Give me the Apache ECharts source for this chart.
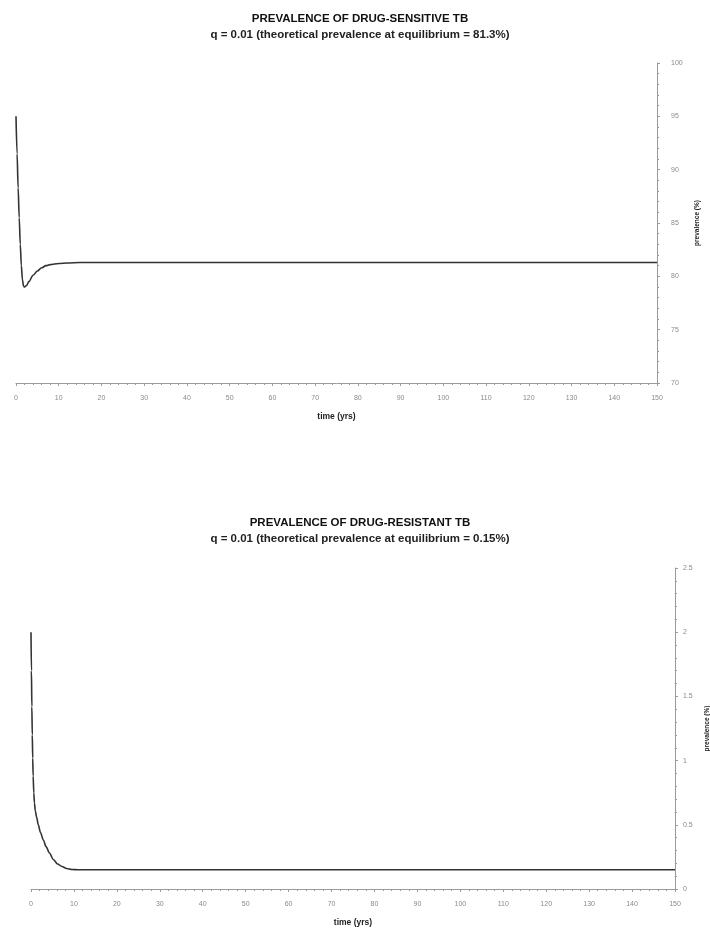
<!DOCTYPE html>
<html>
<head>
<meta charset="utf-8">
<script src="https://cdn.jsdelivr.net/npm/echarts@6/dist/echarts.min.js"></script>
<style>
html,body{margin:0;padding:0;background:#fff;}
#c{width:710px;height:929px;}
</style>
</head>
<body>
<div id="c"></div>
<script>
// ---- data ----
var sensTime = [0, 0.25, 0.5, 0.75, 1, 1.25, 1.5, 1.75, 2, 2.5, 3, 4, 5, 6, 7, 8, 10, 12, 15, 150];
var sensPrev = [95, 91.5, 88.3, 85.5, 83, 81, 79.7, 79.1, 79.0, 79.15, 79.5, 80.1, 80.5, 80.8, 81.0, 81.1, 81.2, 81.25, 81.3, 81.3];
var resTime = [0, 0.1, 0.2, 0.3, 0.4, 0.5, 0.65, 0.8, 1, 1.3, 1.7, 2.2, 2.9, 3.5, 4.3, 5.2, 6.2, 7.2, 8.3, 9.5, 11, 150];
var resPrev = [2.0, 1.7, 1.42, 1.2, 1.02, 0.88, 0.75, 0.67, 0.61, 0.56, 0.5, 0.44, 0.38, 0.33, 0.28, 0.23, 0.195, 0.175, 0.16, 0.152, 0.15, 0.15];
var title1 = 'PREVALENCE OF DRUG-SENSITIVE TB';
var sub1 = 'q = 0.01 (theoretical prevalence at equilibrium = 81.3%)';
var title2 = 'PREVALENCE OF DRUG-RESISTANT TB';
var sub2 = 'q = 0.01 (theoretical prevalence at equilibrium = 0.15%)';
var xName = 'time (yrs)';
var yName = 'prevalence (%)';

function pairs(xs, ys){ return xs.map(function(x,i){ return [x, ys[i]]; }); }

var FONT = 'Liberation Sans, Arial, sans-serif';
var axisGray = '#9a9a9a';
var labelGray = '#8a8a8a';

function xAxisCfg(grid){
  return {
    type:'value', gridIndex:grid, min:0, max:150, interval:10,
    name:xName, nameLocation:'middle', nameGap:29,
    nameTextStyle:{fontFamily:FONT, fontSize:8.5, fontWeight:'bold', color:'#222'},
    axisLine:{show:true, onZero:false, lineStyle:{color:axisGray, width:1}},
    axisTick:{show:true, length:3, lineStyle:{color:axisGray}},
    minorTick:{show:true, splitNumber:5, length:2, lineStyle:{color:axisGray}},
    axisLabel:{fontFamily:FONT, fontSize:7, color:labelGray, margin:12},
    splitLine:{show:false}
  };
}
function yAxisCfg(grid, min, max, interval, gap, margin){
  return {
    type:'value', gridIndex:grid, position:'right', min:min, max:max, interval:interval,
    name:yName, nameLocation:'middle', nameGap:gap, nameRotate:90,
    nameTextStyle:{fontFamily:FONT, fontSize:6.5, fontWeight:'bold', color:'#222'},
    axisLine:{show:true, onZero:false, lineStyle:{color:axisGray, width:1}},
    axisTick:{show:true, length:3, lineStyle:{color:axisGray}},
    minorTick:{show:true, splitNumber:5, length:2, lineStyle:{color:axisGray}},
    axisLabel:{fontFamily:FONT, fontSize:7, color:labelGray, margin:margin},
    splitLine:{show:false}
  };
}

var chart = echarts.init(document.getElementById('c'), null, {renderer:'canvas'});
chart.setOption({
  animation:false,
  backgroundColor:'#fff',
  title:[
    {text:title1, subtext:sub1, left:355, top:8, textAlign:'center', itemGap:4,
     textStyle:{fontFamily:FONT, fontSize:11.5, fontWeight:'bold', color:'#111'},
     subtextStyle:{fontFamily:FONT, fontSize:11.5, fontWeight:'bold', color:'#222'}},
    {text:title2, subtext:sub2, left:355, top:512, textAlign:'center', itemGap:4,
     textStyle:{fontFamily:FONT, fontSize:11.5, fontWeight:'bold', color:'#111'},
     subtextStyle:{fontFamily:FONT, fontSize:11.5, fontWeight:'bold', color:'#222'}}
  ],
  grid:[
    {left:16, right:53, top:63, height:320, outerBoundsMode:'none'},
    {left:31, right:35, top:568, height:321, outerBoundsMode:'none'}
  ],
  xAxis:[xAxisCfg(0), xAxisCfg(1)],
  yAxis:[yAxisCfg(0, 70, 100, 5, 29, 14), yAxisCfg(1, 0, 2.5, 0.5, 28, 8)],
  series:[
    {type:'line', xAxisIndex:0, yAxisIndex:0, data:pairs(sensTime, sensPrev), smooth:0.3, smoothMonotone:'x',
     showSymbol:false, lineStyle:{color:'#333', width:1.6}},
    {type:'line', xAxisIndex:1, yAxisIndex:1, data:pairs(resTime, resPrev), smooth:0.3, smoothMonotone:'x',
     showSymbol:false, lineStyle:{color:'#333', width:1.6}}
  ]
});
</script>
</body>
</html>
